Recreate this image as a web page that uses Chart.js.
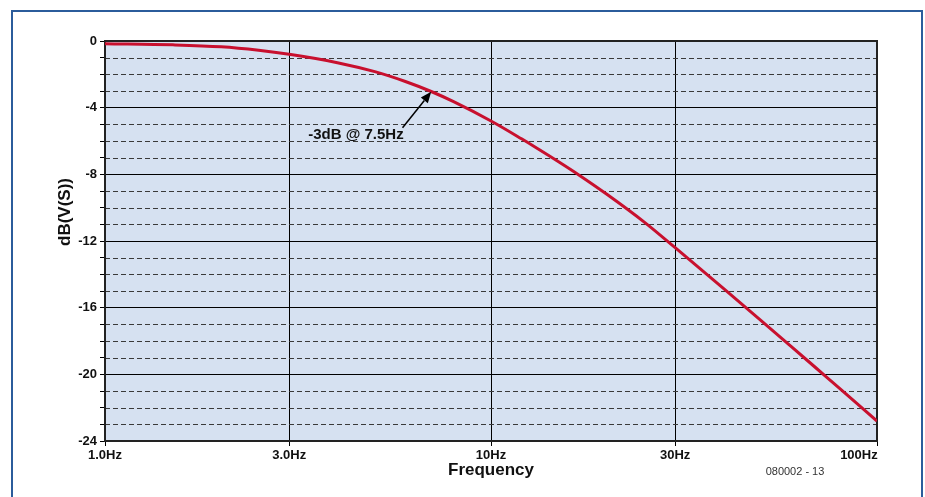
<!DOCTYPE html>
<html>
<head>
<meta charset="utf-8">
<script src="https://cdn.jsdelivr.net/npm/chart.js@4/dist/chart.umd.min.js"></script>
<style>
  html, body { margin: 0; padding: 0; background: #fff; }
  #wrap { position: relative; width: 925px; height: 497px; overflow: hidden; }
  #frame { position: absolute; left: 11px; top: 10px; width: 908px; height: 600px;
           border: 2px solid #2B5C9B; pointer-events: none; }
  canvas { position: absolute; left: 0; top: 0; }
</style>
</head>
<body>
<div id="wrap">
  <canvas id="c" width="925" height="497"></canvas>
  <div id="frame"></div>
</div>
<script>
// ---- data ----
const freqHz = [1, 1.5, 2, 2.5, 3, 4, 5, 6, 7, 8, 10, 12, 13, 15, 17, 20, 25, 30, 40, 50, 60, 70, 80, 100];
const gainDb = [-0.16, -0.23, -0.35, -0.56, -0.8, -1.3, -1.84, -2.43, -3.03, -3.64, -4.8, -5.87, -6.36, -7.26, -8.08, -9.21, -10.88, -12.4, -14.84, -16.76, -18.34, -19.68, -20.84, -22.8];
const xTickValues = [1, 3, 10, 30, 100];
const xTickLabels = ['1.0Hz', '3.0Hz', '10Hz', '30Hz', '100Hz'];
const yMajorStep = 4;
const annotationText = '-3dB @ 7.5Hz';
const annotationTip = { f: 7.0, db: -3.05 };
const annotationTail = { f: 5.9, db: -5.2 };
const annotationLabel = { f: 3.36, db: -5.65 };
const creditText = '080002 - 13';
const yTitle = 'dB(V(S))';
const xTitle = 'Frequency';

const points = freqHz.map((f, i) => ({ x: f, y: gainDb[i] }));

const plotDecor = {
  id: 'plotDecor',
  beforeDraw(chart) {
    const { ctx, chartArea: a } = chart;
    ctx.save();
    ctx.fillStyle = '#D6E1F1';
    ctx.fillRect(a.left, a.top, a.right - a.left, a.bottom - a.top);
    ctx.restore();
  },
  beforeDatasetsDraw(chart) {
    const { ctx, chartArea: a, scales } = chart;
    const y = scales.y;
    ctx.save();
    ctx.strokeStyle = '#3a3a3a';
    ctx.lineWidth = 1;
    ctx.setLineDash([5, 3]);
    for (let v = -23; v <= -1; v++) {
      if (v % yMajorStep === 0) continue;
      const py = Math.round(y.getPixelForValue(v)) + 0.5;
      ctx.beginPath();
      ctx.moveTo(a.left, py);
      ctx.lineTo(a.right, py);
      ctx.stroke();
    }
    ctx.setLineDash([]);
    // plot frame
    ctx.strokeStyle = '#222';
    ctx.lineWidth = 2;
    ctx.strokeRect(a.left, a.top, a.right - a.left, a.bottom - a.top);
    ctx.restore();
  },
  afterDraw(chart) {
    const { ctx, chartArea: a, scales } = chart;
    const x = scales.x, y = scales.y;
    ctx.save();
    // arrow
    const tx = x.getPixelForValue(annotationTip.f), ty = y.getPixelForValue(annotationTip.db);
    const sx = x.getPixelForValue(annotationTail.f), sy = y.getPixelForValue(annotationTail.db);
    const ang = Math.atan2(ty - sy, tx - sx);
    const hl = 11, hw = 4.5;
    const bx = tx - hl * Math.cos(ang), by = ty - hl * Math.sin(ang);
    ctx.strokeStyle = '#000';
    ctx.fillStyle = '#000';
    ctx.lineWidth = 1.5;
    ctx.beginPath();
    ctx.moveTo(sx, sy);
    ctx.lineTo(bx, by);
    ctx.stroke();
    ctx.beginPath();
    ctx.moveTo(tx, ty);
    ctx.lineTo(bx + hw * Math.sin(ang), by - hw * Math.cos(ang));
    ctx.lineTo(bx - hw * Math.sin(ang), by + hw * Math.cos(ang));
    ctx.closePath();
    ctx.fill();
    // annotation label
    ctx.font = 'bold 15px "Liberation Sans", Arial, sans-serif';
    ctx.textAlign = 'left';
    ctx.textBaseline = 'middle';
    ctx.fillStyle = '#111';
    ctx.fillText(annotationText, x.getPixelForValue(annotationLabel.f), y.getPixelForValue(annotationLabel.db));
    // y title
    ctx.save();
    ctx.translate(65, 212);
    ctx.rotate(-Math.PI / 2);
    ctx.font = 'bold 17px "Liberation Sans", Arial, sans-serif';
    ctx.textAlign = 'center';
    ctx.fillStyle = '#111';
    ctx.fillText(yTitle, 0, 0);
    ctx.restore();
    // credit
    ctx.font = '11px "Liberation Sans", Arial, sans-serif';
    ctx.textAlign = 'center';
    ctx.fillStyle = '#333';
    ctx.fillText(creditText, 795, 472);
    ctx.restore();
  }
};

new Chart(document.getElementById('c'), {
  type: 'line',
  data: {
    datasets: [{
      data: points,
      borderColor: '#C8102E',
      borderWidth: 3,
      pointRadius: 0,
      fill: false,
      cubicInterpolationMode: 'monotone',
      tension: 0.4
    }]
  },
  options: {
    responsive: false,
    devicePixelRatio: 1,
    animation: false,
    layout: { padding: { left: 0, top: 41, right: 48, bottom: 0 } },
    plugins: { legend: { display: false }, tooltip: { enabled: false } },
    scales: {
      x: {
        type: 'logarithmic',
        min: 1,
        max: 100,
        afterBuildTicks(s) { s.ticks = xTickValues.map(v => ({ value: v })); },
        afterFit(s) { s.height = 56; },
        ticks: {
          autoSkip: false,
          maxRotation: 0,
          padding: 2,
          color: '#111',
          font: { family: '"Liberation Sans", Arial, sans-serif', size: 13, weight: 'bold' },
          callback(v) {
            const i = xTickValues.indexOf(v);
            if (i < 0) return '';
            return i === xTickLabels.length - 1 ? xTickLabels[i] + '\u2007\u2007\u2007\u2007\u2007' : xTickLabels[i];
          }
        },
        grid: { color: '#000', lineWidth: 1, tickLength: 5, tickColor: '#000' },
        border: { color: '#000', width: 2 },
        title: {
          display: true,
          text: xTitle,
          color: '#111',
          font: { family: '"Liberation Sans", Arial, sans-serif', size: 17, weight: 'bold' },
          padding: { top: 0, bottom: 16 }
        }
      },
      y: {
        min: -24,
        max: 0,
        afterFit(s) { s.width = 105; },
        ticks: {
          stepSize: 1,
          autoSkip: false,
          padding: 3,
          color: '#111',
          font: { family: '"Liberation Sans", Arial, sans-serif', size: 13, weight: 'bold' },
          callback(v) { return v % yMajorStep === 0 ? String(v) : ''; }
        },
        grid: {
          color: ctx => (ctx.tick && ctx.tick.value % yMajorStep === 0) ? '#000' : 'rgba(0,0,0,0)',
          tickColor: '#000',
          lineWidth: 1,
          tickLength: 5
        },
        border: { color: '#000', width: 2 }
      }
    }
  },
  plugins: [plotDecor]
});
</script>
</body>
</html>
